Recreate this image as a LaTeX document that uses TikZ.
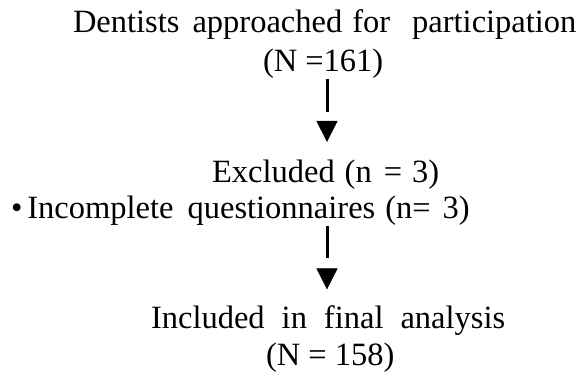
\documentclass[tikz,border=0pt]{standalone}
\usepackage{fontspec}
\setmainfont{Liberation Serif}
\usetikzlibrary{arrows.meta}
\begin{document}
\begin{tikzpicture}[x=1pt,y=-1pt,
  txt/.style={inner sep=0pt,outer sep=0pt,anchor=base west,font=\fontsize{32.5}{39}\selectfont},
  stem/.style={line width=3pt},
  head/.style={line width=0.4pt,-{Triangle[length=21pt,width=21pt]}}]
\useasboundingbox (0,0) rectangle (582,372);
\node[txt] (n1a) at (73,32) {Dentists\hspace{13pt}approached\hspace{10pt}for\hspace{22pt}participation};
\node[txt] (n1b) at (263,71) {(N =161)};
\node[txt] (excl) at (212,182) {Excluded\hspace{10pt}(n\hspace{12pt}=\hspace{10pt}3)};
\node[txt] (inc) at (11,218) {•\hspace{5pt}Incomplete\hspace{14pt}questionnaires\hspace{10pt}(n=\hspace{12pt}3)};
\node[txt] (n3a) at (151,328) {Included\hspace{17pt}in\hspace{17pt}final\hspace{17pt}analysis};
\node[txt] (n3b) at (266,365) {(N = 158)};
\coordinate (ax) at (327,0);
\draw[stem,shorten <=1pt,shorten >=47.5pt] (ax |- n1b.south) -- (ax |- excl.north);
\draw[head,shorten <=44.3pt,shorten >=17.5pt] (ax |- n1b.south) -- (ax |- excl.north);
\draw[stem,shorten <=1pt,shorten >=46.7pt] (ax |- inc.south) -- (ax |- n3a.north);
\draw[head,shorten <=44.3pt,shorten >=15.7pt] (ax |- inc.south) -- (ax |- n3a.north);
\end{tikzpicture}
\end{document}
